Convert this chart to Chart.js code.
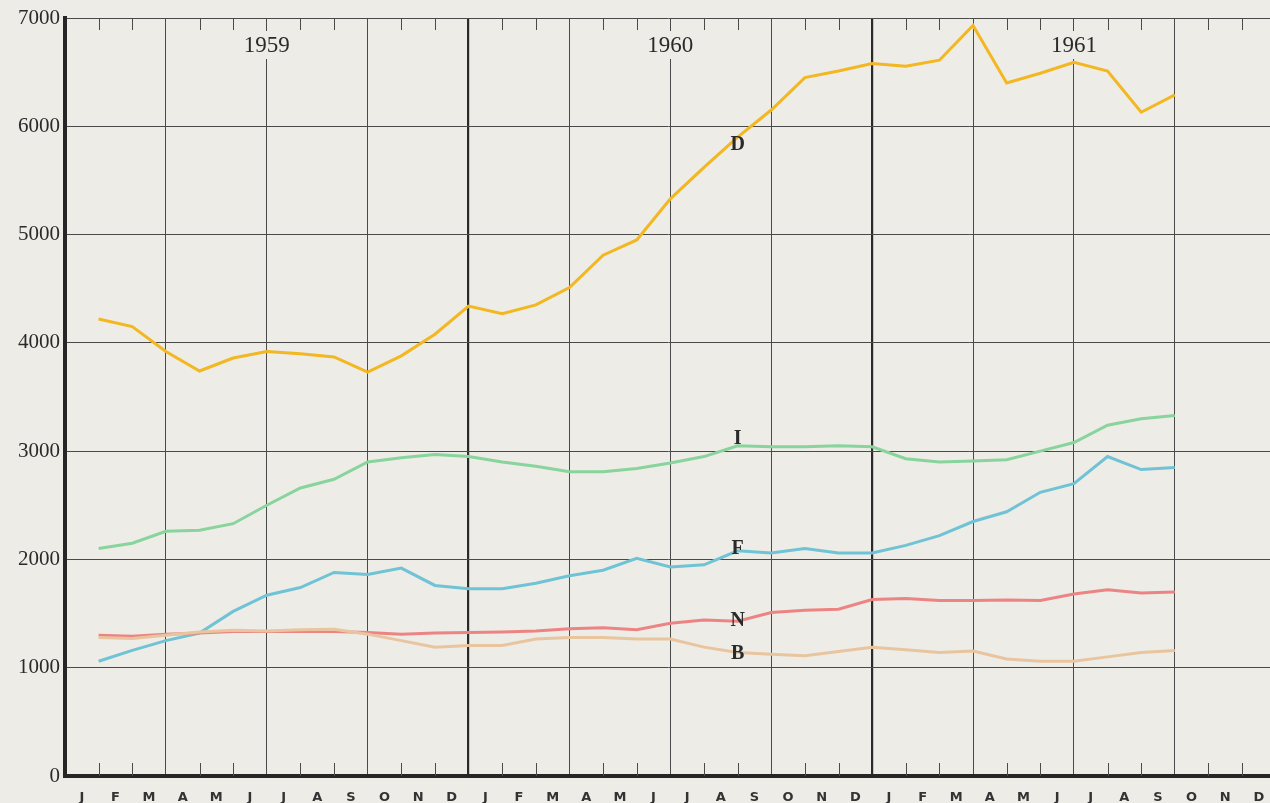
<!DOCTYPE html>
<html><head><meta charset="utf-8">
<script src="https://cdn.jsdelivr.net/npm/chart.js@4"></script>
<style>
html,body{margin:0;padding:0;background:#edece7;overflow:hidden}
#wrap{width:1270px;height:803px;position:relative}
</style></head>
<body><div id="wrap"><canvas id="c" width="1270" height="803"></canvas></div>
<script>
const monthLetters = ['J','F','M','A','M','J','J','A','S','O','N','D'];
const years = ['1959','1960','1961'];
const yTicks = [0,1000,2000,3000,4000,5000,6000,7000];
// values at the end of each month, Jan 1959 .. Sep 1961
const seriesD = [4220,4150,3920,3740,3860,3920,3900,3870,3730,3880,4080,4340,4270,4350,4510,4810,4950,5330,5620,5900,6150,6450,6510,6580,6555,6610,6930,6400,6490,6590,6510,6130,6290];
const seriesI = [2100,2150,2260,2270,2330,2500,2660,2740,2900,2940,2970,2950,2900,2860,2810,2810,2840,2890,2950,3050,3040,3040,3050,3040,2930,2900,2910,2920,3000,3080,3240,3300,3330];
const seriesF = [1060,1160,1250,1320,1520,1670,1740,1880,1860,1920,1760,1730,1730,1780,1850,1900,2010,1930,1950,2080,2060,2100,2060,2060,2130,2220,2350,2440,2620,2700,2950,2830,2850];
const seriesN = [1300,1290,1310,1320,1335,1335,1335,1335,1325,1310,1320,1325,1330,1340,1360,1370,1350,1410,1440,1430,1510,1530,1540,1630,1640,1620,1620,1625,1620,1680,1720,1690,1700];
const seriesB = [1280,1270,1300,1330,1345,1340,1350,1355,1310,1250,1190,1205,1205,1265,1280,1280,1265,1265,1190,1140,1125,1110,1150,1190,1165,1140,1155,1080,1060,1060,1100,1140,1160];
const seriesNames = ['D','I','F','N','B'];
const seriesColors = ['#f2b721','#88d49c','#6fc3d5','#ec8484','#e9c59f'];
const labelPos = [[20,5830],[20,3110],[20,2100],[20,1430],[20,1125]];

const allSeries = [seriesD, seriesI, seriesF, seriesN, seriesB];
const BG = '#edece7';
const GRID = '#4a4a4a';

const decor = {
  id:'decor',
  beforeDraw(chart){
    const {ctx} = chart;
    ctx.save(); ctx.fillStyle = BG; ctx.fillRect(0,0,chart.width,chart.height); ctx.restore();
  },
  afterDatasetsDraw(chart){
    const {ctx, chartArea:a, scales:{x,y}} = chart;
    ctx.save();
    // minor month ticks top and bottom
    ctx.strokeStyle = GRID; ctx.lineWidth = 1;
    for (let k=1;k<36;k++){
      if (k%3===0) continue;
      const px = Math.round(x.getPixelForValue(k))+0.5;
      if (px > a.right) continue;
      ctx.beginPath(); ctx.moveTo(px,a.bottom); ctx.lineTo(px,a.bottom-13); ctx.stroke();
      ctx.beginPath(); ctx.moveTo(px,a.top); ctx.lineTo(px,a.top+12); ctx.stroke();
    }
    // year labels
    ctx.font = '23px "Liberation Serif", serif';
    ctx.textAlign='center'; ctx.textBaseline='middle';
    years.forEach((t,i)=>{
      const px = x.getPixelForValue(i*12+6);
      const w = ctx.measureText(t).width;
      ctx.fillStyle = BG; ctx.fillRect(px-w/2-3, 31, w+6, 28);
      ctx.fillStyle = '#2a2a2a'; ctx.fillText(t, px, 46);
    });
    // series letters
    ctx.font = 'bold 20px "Liberation Serif", serif';
    seriesNames.forEach((n,i)=>{
      ctx.fillStyle = '#2a2a2a';
      ctx.fillText(n, x.getPixelForValue(labelPos[i][0]), y.getPixelForValue(labelPos[i][1]));
    });
    ctx.restore();
  }
};

new Chart(document.getElementById('c'), {
  type:'line',
  data:{
    datasets: allSeries.map((s,i)=>({
      label: seriesNames[i],
      data: s.map((v,k)=>({x:k+1,y:v})),
      borderColor: seriesColors[i],
      borderWidth: 3,
      pointRadius: 0,
      tension: 0,
      fill:false
    })).reverse()
  },
  options:{
    responsive:false, animation:false,
    layout:{padding:{top:18,right:0,left:0,bottom:0}},
    plugins:{legend:{display:false}, tooltip:{enabled:false}},
    scales:{
      x:{
        type:'linear', min:0, max:35.83, position:'bottom',
        afterBuildTicks(s){ const t=[]; for(let k=0;k<=33;k+=3) t.push({value:k}); s.ticks=t; },
        afterFit(s){ s.height = 0; s.paddingLeft = 0; s.paddingRight = 0; },
        ticks:{display:false},
        grid:{
          color: c => (c.tick && (c.tick.value===12||c.tick.value===24)) ? '#2a2a2a' : GRID,
          lineWidth: c => (c.tick && (c.tick.value===12||c.tick.value===24)) ? 2.2 : 1,
          drawTicks:false
        },
        border:{display:true, width:4, color:'#262626'}
      },
      x2:{
        type:'linear', min:0, max:35.83, position:'bottom',
        afterBuildTicks(s){ const t=[]; for(let k=0;k<36;k++) t.push({value:k+0.5}); s.ticks=t; },
        afterFit(s){ s.height = 27; s.paddingLeft = 0; s.paddingRight = 0; },
        ticks:{
          autoSkip:false, maxRotation:0, padding:14,
          font:{family:'"DejaVu Sans", sans-serif', weight:'bold', size:13},
          color:'#333',
          callback: v => monthLetters[Math.floor(v)%12]
        },
        grid:{display:false, drawTicks:false},
        border:{display:false}
      },
      y:{
        type:'linear', min:0, max:7000,
        afterBuildTicks(s){ s.ticks = yTicks.map(v=>({value:v})); },
        afterFit(s){ s.width = 65; s.paddingTop = 0; s.paddingBottom = 0; },
        ticks:{
          padding:5, color:'#2a2a2a',
          font:{family:'"Liberation Serif", serif', size:21},
          callback: v => String(v)
        },
        grid:{color:GRID, lineWidth:1, drawTicks:false},
        border:{display:true, width:4, color:'#262626'}
      }
    }
  },
  plugins:[decor]
});
</script></body></html>
